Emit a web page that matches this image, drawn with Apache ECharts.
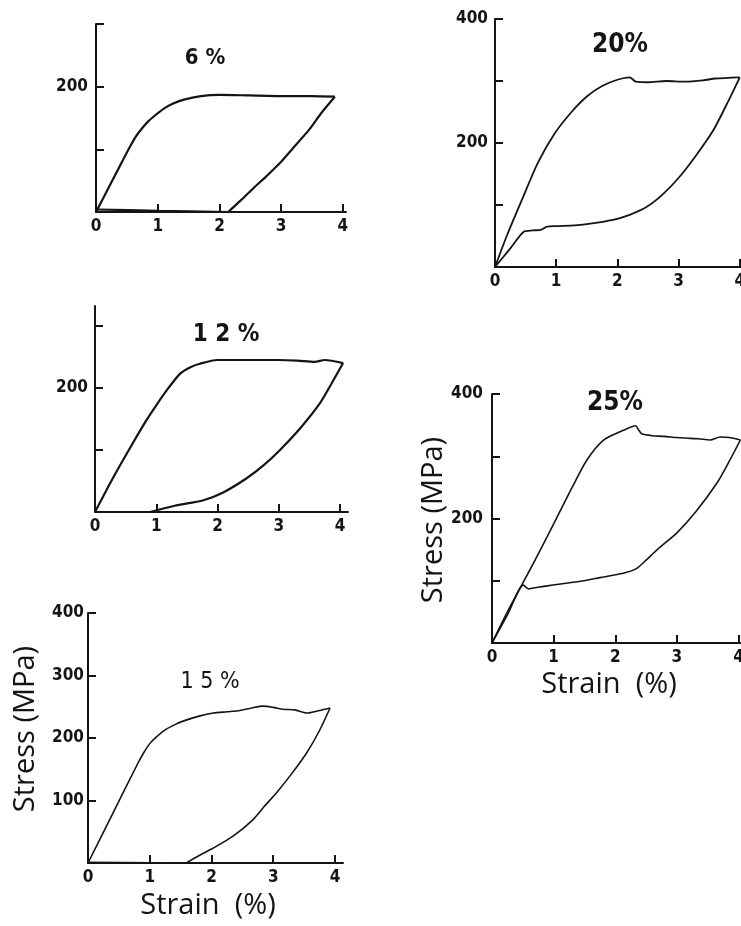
<!DOCTYPE html>
<html>
<head>
<meta charset="utf-8">
<script src="https://cdn.jsdelivr.net/npm/echarts@6/dist/echarts.min.js"></script>
<style>
html,body{margin:0;padding:0;background:#fff;}
#c{width:741px;height:926px;}
</style>
</head>
<body>
<div id="c"></div>
<script>
// ---- data: [strain %, stress MPa] ----
var load6 = [[0,0],[0.2,38],[0.4,76],[0.55,104],[0.65,121],[0.75,134],[0.85,145],[0.98,156],[1.1,165],[1.25,173],[1.41,179],[1.7,185],[2.0,187],[2.5,186],[3.0,185],[3.5,185],[3.87,184]];
var unload6 = [[3.87,184],[3.65,158],[3.45,131],[3.2,103],[2.98,78],[2.75,56],[2.55,38],[2.35,19],[2.14,0]];
var base6 = [[2.14,0],[1.0,2],[0,4]];

var load20 = [[0,0],[0.2,52],[0.46,113],[0.7,168],[0.98,216],[1.25,250],[1.5,275],[1.75,292],[2.0,302],[2.2,306],[2.3,299],[2.5,298],[2.8,300],[3.1,299],[3.4,301],[3.6,304],[4.0,306]];
var unload20 = [[4.0,306],[3.8,265],[3.57,221],[3.3,182],[3.02,146],[2.75,118],[2.48,97],[2.2,84],[1.93,76],[1.5,69],[1.3,67],[1.0,66],[0.85,65],[0.75,60],[0.62,59],[0.47,57],[0.25,30],[0,0]];

var load12 = [[0,0],[0.3,56],[0.6,108],[0.84,148],[1.0,172],[1.17,196],[1.39,223],[1.55,233],[1.71,239],[2.0,245],[2.5,245],[3.0,245],[3.3,244],[3.59,242],[3.75,245],[4.05,240]];
var unload12 = [[4.05,240],[3.85,205],[3.67,175],[3.35,135],[3.02,100],[2.75,75],[2.47,54],[2.1,32],[1.77,19],[1.3,10],[0.9,0]];
var base12 = [[0.9,0],[0,0]];

var load25 = [[0,0],[0.25,50],[0.51,98],[0.73,139],[1.06,203],[1.3,250],[1.54,294],[1.81,326],[2.14,342],[2.33,349],[2.38,342],[2.43,336],[2.6,333],[2.79,332],[3.0,330],[3.17,329],[3.35,328],[3.54,326],[3.7,331],[3.85,330],[4.03,326]];
var unload25 = [[4.03,326],[3.85,292],[3.65,257],[3.3,210],[3.0,177],[2.68,150],[2.5,133],[2.35,120],[2.2,114],[2.03,110],[1.75,105],[1.49,100],[1.2,96],[0.84,91],[0.65,88],[0.59,87],[0.51,93],[0.25,45],[0,0]];

var load15 = [[0,0],[0.4,79],[0.8,158],[0.9,176],[1.0,191],[1.1,201],[1.25,213],[1.4,221],[1.54,227],[1.8,235],[2.03,240],[2.25,242],[2.46,244],[2.65,248],[2.84,251],[3.0,249],[3.16,246],[3.35,245],[3.54,240],[3.75,244],[3.92,248]];
var unload15 = [[3.92,248],[3.75,212],[3.54,176],[3.3,143],[3.05,112],[2.85,90],[2.67,69],[2.35,43],[2.03,24],[1.8,12],[1.59,0]];
var base15 = [[1.59,0],[0,1]];

var xTicks = [0,1,2,3,4];
var titles = ['6 %','20%','1 2 %','25%','1 5 %'];
var xName = 'Strain  (%)';
var yName = 'Stress (MPa)';

// ---- layout ----
var panels = [
  {grid:{left:96,top:24,width:250,height:188}, xmax:4.05, ymax:300, yTicks:[100,200,300], yLabels:[200], lm:8, series:[load6,unload6,base6], lw:2.2},
  {grid:{left:495,top:19,width:246,height:248}, xmax:4.02, ymax:400, yTicks:[100,200,300,400], yLabels:[200,400], lm:7, series:[load20,unload20], lw:1.8},
  {grid:{left:95,top:306,width:253,height:206}, xmax:4.13, ymax:332, yTicks:[100,200,300], yLabels:[200], lm:7, series:[load12,unload12,base12], lw:2.2},
  {grid:{left:492,top:394,width:249,height:249}, xmax:4.04, ymax:400, yTicks:[100,200,300,400], yLabels:[200,400], lm:9, series:[load25,unload25], lw:1.6},
  {grid:{left:88,top:613,width:255,height:250}, xmax:4.13, ymax:400, yTicks:[100,200,300,400], yLabels:[100,200,300,400], lm:4, series:[load15,unload15,base15], lw:1.6}
];

var ink = '#141414';
var tickFont = {fontFamily:'DejaVu Sans Condensed', fontWeight:'bold', fontSize:17, color:ink};

var option = {backgroundColor:'#fff', animation:false, grid:[], xAxis:[], yAxis:[], series:[], graphic:[]};
panels.forEach(function(p,i){
  var g = Object.assign({outerBoundsMode:'none', containLabel:false}, p.grid);
  option.grid.push(g);
  option.xAxis.push({type:'value', gridIndex:i, min:0, max:p.xmax,
    axisLine:{onZero:false, lineStyle:{color:ink,width:2}},
    axisTick:{inside:true, length:8, customValues:xTicks.slice(1), lineStyle:{color:ink,width:2}},
    axisLabel:Object.assign({customValues:xTicks, margin:6}, tickFont),
    splitLine:{show:false}});
  option.yAxis.push({type:'value', gridIndex:i, min:0, max:p.ymax,
    axisLine:{onZero:false, lineStyle:{color:ink,width:2}},
    axisTick:{inside:true, length:8, customValues:p.yTicks, lineStyle:{color:ink,width:2}},
    axisLabel:Object.assign({customValues:p.yLabels, margin:p.lm}, tickFont),
    splitLine:{show:false}});
  p.series.forEach(function(d){
    option.series.push({type:'line', xAxisIndex:i, yAxisIndex:i, data:d, showSymbol:false, smooth:0.25,
      lineStyle:{color:ink, width:p.lw}});
  });
});

var titlePos = [[205,58,22,'bold'],[620,45,26,'bold'],[226,335,24,'bold'],[615,403,26,'bold'],[210,682,23,'normal']];
titlePos.forEach(function(t,i){
  option.graphic.push({type:'text', x:t[0], y:t[1], style:{text:titles[i], fontFamily:'DejaVu Sans Condensed', fontWeight:t[3], fontSize:t[2], fill:ink, textAlign:'center', textVerticalAlign:'middle'}});
});
var nameFont = {fontFamily:'Open Sans', fontSize:29, fill:ink, textAlign:'center', textVerticalAlign:'middle'};
option.graphic.push({type:'text', x:26, y:729, rotation:Math.PI/2, style:Object.assign({text:yName}, nameFont)});
option.graphic.push({type:'text', x:208, y:906, style:Object.assign({text:xName}, nameFont)});
option.graphic.push({type:'text', x:434, y:520, rotation:Math.PI/2, style:Object.assign({text:yName}, nameFont)});
option.graphic.push({type:'text', x:609, y:685, style:Object.assign({text:xName}, nameFont)});

echarts.init(document.getElementById('c'), null, {renderer:'canvas'}).setOption(option);
</script>
</body>
</html>
